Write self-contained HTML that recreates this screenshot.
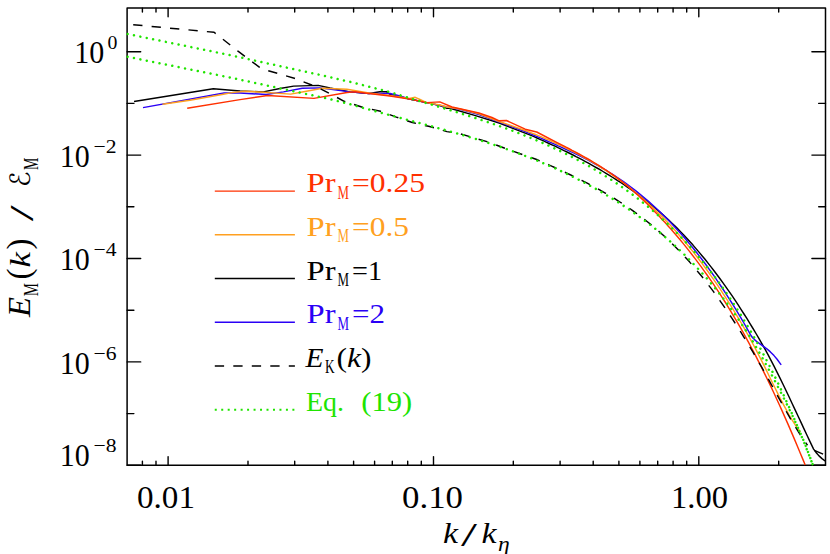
<!DOCTYPE html>
<html><head><meta charset="utf-8"><title>plot</title>
<style>html,body{margin:0;padding:0;background:#fff}svg{position:absolute;left:0;top:0}body{width:830px;height:554px;overflow:hidden;font-family:"Liberation Serif",serif}</style>
</head><body>
<svg width="830" height="554" viewBox="0 0 830 554" style="display:block">
<rect width="830" height="554" fill="#fff"/>
<defs><clipPath id="c"><rect x="126.25" y="7.25" width="700.10" height="458.90"/></clipPath></defs>
<rect x="127.1" y="8.1" width="698.4" height="457.2" fill="none" stroke="#000" stroke-width="1.5" stroke-linejoin="round"/>
<path d="M142.4,465.3v-4.0M142.4,8.1v4.0 M156.0,465.3v-4.0M156.0,8.1v4.0 M168.1,465.3v-8.7M168.1,8.1v8.7 M248.0,465.3v-4.0M248.0,8.1v4.0 M294.7,465.3v-4.0M294.7,8.1v4.0 M327.9,465.3v-4.0M327.9,8.1v4.0 M353.6,465.3v-4.0M353.6,8.1v4.0 M374.6,465.3v-4.0M374.6,8.1v4.0 M392.3,465.3v-4.0M392.3,8.1v4.0 M407.7,465.3v-4.0M407.7,8.1v4.0 M421.3,465.3v-4.0M421.3,8.1v4.0 M433.5,465.3v-8.7M433.5,8.1v8.7 M513.3,465.3v-4.0M513.3,8.1v4.0 M560.1,465.3v-4.0M560.1,8.1v4.0 M593.2,465.3v-4.0M593.2,8.1v4.0 M618.9,465.3v-4.0M618.9,8.1v4.0 M639.9,465.3v-4.0M639.9,8.1v4.0 M657.7,465.3v-4.0M657.7,8.1v4.0 M673.1,465.3v-4.0M673.1,8.1v4.0 M686.7,465.3v-4.0M686.7,8.1v4.0 M698.8,465.3v-8.7M698.8,8.1v8.7 M778.7,465.3v-4.0M778.7,8.1v4.0 M127.1,465.3h13.6M825.5,465.3h-13.6 M127.1,413.6h6.8M825.5,413.6h-6.8 M127.1,361.9h13.6M825.5,361.9h-13.6 M127.1,310.2h6.8M825.5,310.2h-6.8 M127.1,258.5h13.6M825.5,258.5h-13.6 M127.1,206.8h6.8M825.5,206.8h-6.8 M127.1,155.1h13.6M825.5,155.1h-13.6 M127.1,103.4h6.8M825.5,103.4h-6.8 M127.1,51.7h13.6M825.5,51.7h-13.6" stroke="#000" stroke-width="1.4" fill="none" stroke-linecap="round"/>
<g clip-path="url(#c)">
<polyline points="134.0,101.5 213.3,88.8 240.0,91.0 263.3,91.9 280.0,88.5 293.6,86.1 318.2,85.4 330.0,88.0 350.0,91.9 368.9,93.5 380.0,91.8 386.3,91.6 390.0,94.5 397.8,96.1 409.4,99.0 426.7,102.6 440.0,105.5 447.0,108.4 450.0,108.2 474.6,115.4 499.2,123.0 531.0,135.4 534.0,136.7 537.0,138.0 540.0,139.4 543.0,140.7 546.0,142.1 549.0,143.5 552.0,144.8 555.0,146.2 558.0,147.7 561.0,149.1 564.0,150.6 567.0,152.0 570.0,153.5 573.0,155.0 576.0,156.6 579.0,158.1 582.0,159.7 585.0,161.3 588.0,162.9 591.0,164.6 594.0,166.3 597.0,168.0 600.0,169.7 603.0,171.5 606.0,173.3 609.0,175.1 612.0,177.0 615.0,178.9 618.0,180.8 621.0,182.7 624.0,184.7 627.0,186.8 630.0,188.9 633.0,191.0 636.0,193.1 639.0,195.3 642.0,197.6 645.0,199.9 648.0,202.3 651.0,204.7 654.0,207.1 657.0,209.7 660.0,212.2 663.0,214.9 666.0,217.6 669.0,220.4 672.0,223.2 675.0,226.1 678.0,229.1 681.0,232.2 684.0,235.3 687.0,238.5 690.0,241.8 693.0,245.1 696.0,248.6 699.0,252.1 702.0,255.7 705.0,259.3 708.0,263.1 711.0,266.9 714.0,270.8 717.0,274.7 720.0,278.8 723.0,282.9 726.0,287.1 729.0,291.4 732.0,295.7 735.0,300.2 738.0,304.7 741.0,309.3 744.0,314.0 747.0,318.7 750.0,323.6 753.0,328.5 756.0,333.5 759.0,338.6 762.0,343.8 765.0,349.1 768.0,354.6 771.0,360.3 774.0,366.1 777.0,372.1 780.0,378.1 783.0,384.3 786.0,390.5 789.0,396.8 792.0,403.2 795.0,409.6 798.0,416.0 801.0,422.4 804.0,428.9 807.0,435.2 810.0,441.6 813.0,447.9 813.6,449.1 816.5,453.0 819.0,455.9 822.0,458.6 825.5,461.3" fill="none" stroke="#000" stroke-width="1.45" stroke-linejoin="round" />
<polyline points="814.3,450.3 823.1,454.2" fill="none" stroke="#000" stroke-width="1.45" stroke-linejoin="round" />
<polyline points="143.0,107.6 224.1,93.0 232.0,93.0 240.0,93.0 266.1,94.5 283.5,91.9 302.3,88.3 319.6,87.9 350.0,91.9 368.9,93.5 390.0,93.5 400.0,96.0 409.4,99.0 426.7,102.6 447.0,107.0 460.0,109.2 478.9,114.5 499.2,122.0 525.2,131.5 528.2,132.8 531.2,134.1 534.2,135.4 537.2,136.6 540.2,137.9 543.2,139.2 546.2,140.5 549.2,141.8 552.2,143.1 555.2,144.4 558.2,145.8 561.2,147.1 564.2,148.5 567.2,149.9 570.2,151.3 573.2,152.7 576.2,154.2 579.2,155.6 582.2,157.1 585.2,158.7 588.2,160.2 591.2,161.8 594.2,163.5 597.2,165.2 600.2,166.9 603.2,168.6 606.2,170.4 609.2,172.3 612.2,174.2 615.2,176.1 618.2,178.1 621.2,180.1 624.2,182.2 627.2,184.4 630.2,186.6 633.2,188.9 636.2,191.2 639.2,193.6 642.2,196.0 645.2,198.6 648.2,201.1 651.2,203.8 654.2,206.5 657.2,209.3 660.2,212.1 663.2,215.0 666.2,218.0 669.2,221.1 672.2,224.2 675.2,227.4 678.2,230.7 681.2,234.1 684.2,237.5 687.2,241.0 690.2,244.6 693.2,248.3 696.2,252.0 699.2,255.9 702.2,259.8 705.2,263.8 708.2,267.8 711.2,272.0 714.2,276.2 717.2,280.6 720.2,285.0 723.2,289.5 726.2,294.1 729.2,298.8 732.2,303.5 735.2,308.4 738.2,313.4 741.2,318.4 744.2,323.5 747.2,328.8 750.2,334.1 751.0,335.5 752.6,337.7 754.5,339.6 757.5,342.2 761.7,345.2 767.2,349.1 770.4,351.9 774.0,355.6 776.9,359.0 781.2,364.9" fill="none" stroke="#2a00f5" stroke-width="1.45" stroke-linejoin="round" />
<polyline points="162.5,104.3 190.0,100.2 223.4,94.3 232.0,92.6 244.5,91.3 263.3,92.2 290.7,94.1 305.0,91.5 322.5,88.3 347.0,89.3 368.9,93.0 386.0,95.0 400.0,97.0 409.4,98.5 415.2,97.3 420.0,99.5 426.7,102.6 440.0,105.0 447.0,107.0 460.0,109.0 478.9,113.8 499.2,121.5 525.2,130.5 528.2,131.7 531.2,132.8 534.2,134.0 537.2,135.2 540.2,136.4 543.2,137.7 546.2,139.0 549.2,140.2 552.2,141.6 555.2,142.9 558.2,144.3 561.2,145.7 564.2,147.1 567.2,148.5 570.2,150.0 573.2,151.6 576.2,153.1 579.2,154.7 582.2,156.3 585.2,158.0 588.2,159.7 591.2,161.4 594.2,163.2 597.2,165.0 600.2,166.9 603.2,168.8 606.2,170.7 609.2,172.7 612.2,174.8 615.2,176.9 618.2,179.0 621.2,181.2 624.2,183.4 627.2,185.7 630.2,188.1 633.2,190.5 636.2,193.0 639.2,195.5 642.2,198.1 645.2,200.7 648.2,203.4 651.2,206.2 654.2,209.0 657.2,211.9 660.2,214.8 663.2,217.8 666.2,220.9 669.2,224.1 672.2,227.3 675.2,230.6 678.2,234.0 681.2,237.4 684.2,240.9 687.2,244.5 690.2,248.2 693.2,251.9 696.2,255.8 699.2,259.7 702.2,263.6 705.2,267.7 708.2,271.8 711.2,276.1 714.2,280.4 717.2,284.7 720.2,289.2 723.2,293.8 726.2,298.4 729.2,303.1 732.2,307.9 735.2,312.8 738.2,317.9 741.2,323.0 744.2,328.2 747.2,333.5 750.2,338.9 753.2,344.5 756.2,350.2 759.2,356.0 762.2,361.9 765.2,367.9 768.2,374.0 771.2,380.2 774.2,386.3 777.2,392.4 780.2,398.3 783.2,404.1 786.2,409.7 789.2,415.1 792.2,420.2 795.2,424.9 798.2,429.3 800.4,432.2" fill="none" stroke="#ffa020" stroke-width="1.45" stroke-linejoin="round" />
<polyline points="187.2,108.3 240.0,99.6 267.6,95.5 313.9,98.4 347.0,92.5 355.0,91.8 368.9,93.5 390.0,96.0 409.4,99.0 426.7,102.6 439.8,101.9 452.0,107.0 478.9,113.0 492.0,117.5 499.2,120.8 506.4,120.5 525.2,129.2 536.7,132.0 557.1,142.6 560.1,144.1 563.1,145.6 566.1,147.2 569.1,148.7 572.1,150.3 575.1,151.8 578.1,153.5 581.1,155.1 584.1,156.8 587.1,158.5 590.1,160.2 593.1,162.0 596.1,163.8 599.1,165.6 602.1,167.6 605.1,169.5 608.1,171.5 611.1,173.6 614.1,175.7 617.1,177.9 620.1,180.2 623.1,182.5 626.1,184.9 629.1,187.4 632.1,190.0 635.1,192.6 638.1,195.3 641.1,198.1 644.1,200.9 647.1,203.8 650.1,206.8 653.1,209.9 656.1,213.0 659.1,216.1 662.1,219.4 665.1,222.6 668.1,226.0 671.1,229.3 674.1,232.8 677.1,236.3 680.1,239.8 683.1,243.4 686.1,247.1 689.1,250.9 692.1,254.7 695.1,258.6 698.1,262.6 701.1,266.6 704.1,270.8 707.1,275.0 710.1,279.3 713.1,283.7 716.1,288.1 719.1,292.7 722.1,297.3 725.1,302.0 728.1,306.9 731.1,311.8 734.1,316.8 737.1,321.9 740.1,327.1 743.1,332.4 746.1,337.9 749.1,343.4 752.1,349.0 755.1,354.7 758.1,360.6 761.1,366.5 764.1,372.6 767.1,378.7 770.1,384.9 773.1,391.3 776.1,397.7 779.1,404.3 782.1,410.9 785.1,417.6 788.1,424.4 791.1,431.4 794.1,438.4 797.1,445.5 800.1,452.7 803.1,459.9 805.2,465.1" fill="none" stroke="#ff3000" stroke-width="1.45" stroke-linejoin="round" />
<polyline points="133.2,24.7 214.1,32.3 238.0,51.2 259.6,67.3 268.3,70.7 294.3,78.2 311.0,84.7 322.5,89.8 344.2,101.3 361.7,107.0 380.5,111.3 396.4,117.1 412.3,122.5 429.6,126.5 447.0,131.6 460.0,133.7 486.1,141.4 522.3,154.5 536.7,159.5 539.7,160.8 542.7,162.1 545.7,163.5 548.7,164.8 551.7,166.2 554.7,167.5 557.7,168.9 560.7,170.3 563.7,171.7 566.7,173.1 569.7,174.5 572.7,175.9 575.7,177.4 578.7,178.9 581.7,180.4 584.7,181.9 587.7,183.4 590.7,185.0 593.7,186.6 596.7,188.2 599.7,189.9 602.7,191.6 605.7,193.3 608.7,195.1 611.7,196.9 614.7,198.7 617.7,200.6 620.7,202.5 623.7,204.5 626.7,206.5 629.7,208.5 632.7,210.7 635.7,212.8 638.7,215.0 641.7,217.3 644.7,219.6 647.7,222.0 650.7,224.4 653.7,226.9 656.7,229.5 659.7,232.1 662.7,234.8 665.7,237.5 668.7,240.3 671.7,243.2 674.7,246.2 677.7,249.2 680.7,252.3 683.7,255.5 686.7,258.8 689.7,262.1 692.7,265.6 695.7,269.1 698.7,272.7 701.7,276.3 704.7,280.1 707.7,284.0 710.7,287.9 713.7,291.9 716.7,296.1 719.7,300.3 722.7,304.6 725.7,308.9 728.7,313.4 731.7,317.9 734.7,322.5 737.7,327.2 740.7,331.9 743.7,336.8 746.7,341.7 749.7,346.7 752.7,351.7 755.7,356.8 758.7,362.0 761.7,367.2 764.7,372.5 767.7,377.9 770.7,383.3 773.7,388.7 776.7,394.2 779.7,399.6 782.7,405.0 785.7,410.4 788.7,415.7 791.7,420.8 794.7,425.8 797.7,430.7 800.7,435.4 803.7,439.9 806.7,444.2 807.5,445.3" fill="none" stroke="#000" stroke-width="1.45" stroke-linejoin="round" stroke-dasharray="9.3 9.2" stroke-linecap="butt"/>
<polyline points="127.6,34.0 230.0,55.1 330.0,77.1 342.2,80.2 350.0,81.8 386.3,91.1 389.3,91.9 392.3,92.8 395.3,93.8 398.3,94.7 401.3,95.6 404.3,96.5 407.3,97.4 410.3,98.3 413.3,99.2 416.3,100.1 419.3,101.0 422.3,101.9 425.3,102.8 428.3,103.6 431.3,104.5 434.3,105.4 437.3,106.3 440.3,107.2 443.3,108.1 446.3,109.0 449.3,109.9 452.3,110.8 455.3,111.7 458.3,112.6 461.3,113.6 464.3,114.5 467.3,115.4 470.3,116.4 473.3,117.3 476.3,118.3 479.3,119.3 482.3,120.3 485.3,121.2 488.3,122.3 491.3,123.3 494.3,124.3 497.3,125.3 500.3,126.4 503.3,127.5 506.3,128.5 509.3,129.6 512.3,130.7 515.3,131.9 518.3,133.0 521.3,134.2 524.3,135.4 527.3,136.6 530.3,137.8 533.3,139.0 536.3,140.3 539.3,141.5 542.3,142.8 545.3,144.2 548.3,145.5 551.3,146.9 554.3,148.3 557.3,149.7 560.3,151.1 563.3,152.6 566.3,154.1 569.3,155.6 572.3,157.1 575.3,158.7 578.3,160.3 581.3,161.9 584.3,163.5 587.3,165.2 590.3,166.9 593.3,168.7 596.3,170.5 599.3,172.3 602.3,174.1 605.3,176.0 608.3,177.9 611.3,179.8 614.3,181.8 617.3,183.8 620.3,185.9 623.3,187.9 626.3,190.1 629.3,192.2 632.3,194.4 635.3,196.7 638.3,198.9 641.3,201.3 644.3,203.7 647.3,206.1 650.3,208.6 653.3,211.1 656.3,213.7 659.3,216.3 662.3,219.0 665.3,221.8 668.3,224.6 671.3,227.5 674.3,230.4 677.3,233.4 680.3,236.5 683.3,239.6 686.3,242.8 689.3,246.1 692.3,249.4 695.3,252.8 698.3,256.3 701.3,259.9 704.3,263.5 707.3,267.3 710.3,271.1 713.3,275.0 716.3,279.0 719.3,283.0 722.3,287.2 725.3,291.4 728.3,295.8 731.3,300.2 734.3,304.7 737.3,309.4 740.3,314.1 743.3,319.0 746.3,323.9 749.3,329.0 752.3,334.1 755.3,339.4 758.3,344.8 761.3,350.3 764.3,355.9 767.3,361.7 770.3,367.5 773.3,373.5 776.3,379.6 779.3,385.9 782.3,392.3 785.3,398.8 788.3,405.4 791.3,412.2 794.3,419.1 797.3,426.1 800.3,433.3 803.3,440.6 806.3,448.1 809.3,455.7 812.3,463.5 812.9,465.1" fill="none" stroke="#20e400" stroke-width="2.5" stroke-linejoin="round" stroke-dasharray="0.01 6.5" stroke-linecap="round"/>
<polyline points="127.6,56.8 230.0,77.5 330.0,99.1 350.0,104.2 353.0,105.0 356.0,105.9 359.0,106.7 362.0,107.6 365.0,108.4 368.0,109.2 371.0,110.0 374.0,110.9 377.0,111.7 380.0,112.5 383.0,113.3 386.0,114.1 389.0,114.9 392.0,115.7 395.0,116.5 398.0,117.3 401.0,118.1 404.0,118.9 407.0,119.7 410.0,120.5 413.0,121.3 416.0,122.1 419.0,122.9 422.0,123.7 425.0,124.5 428.0,125.3 431.0,126.1 434.0,126.9 437.0,127.8 440.0,128.6 443.0,129.4 446.0,130.3 449.0,131.1 452.0,132.0 455.0,132.8 458.0,133.7 461.0,134.5 464.0,135.4 467.0,136.3 470.0,137.2 473.0,138.1 476.0,139.0 479.0,140.0 482.0,140.9 485.0,141.9 488.0,142.8 491.0,143.8 494.0,144.8 497.0,145.8 500.0,146.8 503.0,147.8 506.0,148.9 509.0,149.9 512.0,151.0 515.0,152.1 518.0,153.2 521.0,154.3 524.0,155.5 527.0,156.6 530.0,157.8 533.0,159.0 536.0,160.2 539.0,161.4 542.0,162.7 545.0,164.0 548.0,165.2 551.0,166.6 554.0,167.9 557.0,169.2 560.0,170.6 563.0,172.0 566.0,173.4 569.0,174.9 572.0,176.4 575.0,177.8 578.0,179.4 581.0,180.9 584.0,182.5 587.0,184.1 590.0,185.7 593.0,187.3 596.0,189.0 599.0,190.7 602.0,192.4 605.0,194.2 608.0,196.0 611.0,197.8 614.0,199.7 617.0,201.5 620.0,203.5 623.0,205.4 626.0,207.4 629.0,209.4 632.0,211.5 635.0,213.6 638.0,215.7 641.0,217.9 644.0,220.1 647.0,222.4 650.0,224.7 653.0,227.0 656.0,229.4 659.0,231.9 662.0,234.4 665.0,236.9 668.0,239.5 671.0,242.2 674.0,244.9 677.0,247.6 680.0,250.5 683.0,253.3 686.0,256.3 689.0,259.3 692.0,262.4 695.0,265.5 698.0,268.7 701.0,271.9 704.0,275.2 707.0,278.6 710.0,282.1 713.0,285.6 716.0,289.3 719.0,293.0 722.0,296.8 725.0,300.7 728.0,304.6 731.0,308.7 734.0,312.9 737.0,317.2 740.0,321.6 743.0,326.1 746.0,330.7 749.0,335.4 752.0,340.2 755.0,345.2 758.0,350.3 761.0,355.5 764.0,360.8 767.0,366.3 770.0,371.8 773.0,377.4 776.0,383.1 779.0,388.9 782.0,394.7 785.0,400.6 788.0,406.6 791.0,412.7 794.0,419.0 797.0,425.5 800.0,432.3 803.0,439.3 806.0,446.7 809.0,454.5 812.0,462.6 812.9,465.1" fill="none" stroke="#20e400" stroke-width="2.5" stroke-linejoin="round" stroke-dasharray="0.01 6.5" stroke-linecap="round"/>
</g>
<g font-family="'Liberation Serif', serif" fill="#000">
<text x="137" y="507.7" font-size="30.6" textLength="58" lengthAdjust="spacingAndGlyphs">0.01</text>
<text x="402" y="507.7" font-size="30.6" textLength="61" lengthAdjust="spacingAndGlyphs">0.10</text>
<text x="671" y="507.7" font-size="30.6" textLength="57" lengthAdjust="spacingAndGlyphs">1.00</text>
<text x="74.3" y="63.4" font-size="30.6" textLength="30" lengthAdjust="spacingAndGlyphs">10</text>
<text x="107.5" y="49.3" font-size="19.8">0</text>
<text x="59.8" y="166.8" font-size="30.6" textLength="30" lengthAdjust="spacingAndGlyphs">10</text>
<text x="93.5" y="152.7" font-size="19.8" textLength="23" lengthAdjust="spacingAndGlyphs">−2</text>
<text x="59.8" y="270.2" font-size="30.6" textLength="30" lengthAdjust="spacingAndGlyphs">10</text>
<text x="93.5" y="256.1" font-size="19.8" textLength="23" lengthAdjust="spacingAndGlyphs">−4</text>
<text x="59.8" y="373.6" font-size="30.6" textLength="30" lengthAdjust="spacingAndGlyphs">10</text>
<text x="93.5" y="359.5" font-size="19.8" textLength="23" lengthAdjust="spacingAndGlyphs">−6</text>
<text x="59.8" y="466.1" font-size="30.6" textLength="30" lengthAdjust="spacingAndGlyphs">10</text>
<text x="93.5" y="452" font-size="19.8" textLength="23" lengthAdjust="spacingAndGlyphs">−8</text>
</g>
<line x1="214.8" y1="191.1" x2="294.9" y2="191.1" stroke="#ff3000" stroke-width="1.45" />
<line x1="214.8" y1="234.8" x2="294.9" y2="234.8" stroke="#ffa020" stroke-width="1.45" />
<line x1="214.8" y1="278.5" x2="294.9" y2="278.5" stroke="#000" stroke-width="1.45" />
<line x1="214.8" y1="322.3" x2="294.9" y2="322.3" stroke="#2a00f5" stroke-width="1.45" />
<line x1="214.8" y1="366.0" x2="294.9" y2="366.0" stroke="#000" stroke-width="1.45" stroke-dasharray="9.3 9.2"/>
<line x1="214.75" y1="409.7" x2="294.4" y2="409.7" stroke="#20e400" stroke-width="2.0" stroke-dasharray="2.0 4.47"/>
<g font-family="'Liberation Serif', serif" font-size="28">
<g fill="#ff3000">
<text x="306.5" y="192.1" textLength="29" lengthAdjust="spacingAndGlyphs">Pr</text>
<text x="337.5" y="198.6" font-size="18.2" textLength="11.5" lengthAdjust="spacingAndGlyphs">M</text>
<text x="352" y="192.1" textLength="73" lengthAdjust="spacingAndGlyphs">=0.25</text>
</g>
<g fill="#ffa020">
<text x="306.5" y="235.82" textLength="29" lengthAdjust="spacingAndGlyphs">Pr</text>
<text x="337.5" y="242.32" font-size="18.2" textLength="11.5" lengthAdjust="spacingAndGlyphs">M</text>
<text x="352" y="235.82" textLength="57" lengthAdjust="spacingAndGlyphs">=0.5</text>
</g>
<g fill="#000">
<text x="306.5" y="279.54" textLength="29" lengthAdjust="spacingAndGlyphs">Pr</text>
<text x="337.5" y="286.04" font-size="18.2" textLength="11.5" lengthAdjust="spacingAndGlyphs">M</text>
<text x="352" y="279.54" textLength="30" lengthAdjust="spacingAndGlyphs">=1</text>
</g>
<g fill="#2a00f5">
<text x="306.5" y="323.26" textLength="29" lengthAdjust="spacingAndGlyphs">Pr</text>
<text x="337.5" y="329.76" font-size="18.2" textLength="11.5" lengthAdjust="spacingAndGlyphs">M</text>
<text x="352" y="323.26" textLength="33" lengthAdjust="spacingAndGlyphs">=2</text>
</g>
<g fill="#000">
<text x="305.5" y="366.98" font-style="italic" textLength="18" lengthAdjust="spacingAndGlyphs">E</text>
<text x="325" y="373.48" font-size="18.2" textLength="9.6" lengthAdjust="spacingAndGlyphs">K</text>
<text x="336.5" y="366.98" textLength="35" lengthAdjust="spacingAndGlyphs">(<tspan font-style="italic">k</tspan>)</text>
</g>
<g fill="#20e400">
<text x="306" y="410.7" textLength="38" lengthAdjust="spacingAndGlyphs">Eq.</text>
<text x="361.3" y="410.7" textLength="51" lengthAdjust="spacingAndGlyphs">(19)</text>
</g>
</g>
<g font-family="'Liberation Serif', serif" fill="#000">
<text x="443" y="543.3" font-size="29.7" font-style="italic" textLength="15" lengthAdjust="spacingAndGlyphs">k</text>
<text x="461" y="546" font-size="34" textLength="16" lengthAdjust="spacingAndGlyphs">/</text>
<text x="481.5" y="543.3" font-size="29.7" font-style="italic" textLength="15" lengthAdjust="spacingAndGlyphs">k</text>
<text x="498" y="551.2" font-size="21.4" font-style="italic" textLength="11.7" lengthAdjust="spacingAndGlyphs">η</text>
</g>
<g transform="translate(30.1,316.9) rotate(-90)" font-family="'Liberation Serif', serif" fill="#000">
<text x="0" y="0" font-size="32.4" font-style="italic" textLength="20" lengthAdjust="spacingAndGlyphs">E</text>
<text x="20.7" y="7.8" font-size="21.4" textLength="13.3" lengthAdjust="spacingAndGlyphs">M</text>
<text x="37.4" y="0" font-size="33">(</text>
<text x="49.4" y="0" font-size="29.7" font-style="italic" textLength="15.5" lengthAdjust="spacingAndGlyphs">k</text>
<text x="67.3" y="0" font-size="33">)</text>
<text x="95.6" y="3" font-size="34" textLength="16" lengthAdjust="spacingAndGlyphs">/</text>
<text x="130" y="0" font-size="28" font-family="'DejaVu Serif', 'DejaVu Sans', serif" textLength="15.5" lengthAdjust="spacingAndGlyphs">ℰ</text>
<text x="146.8" y="8.1" font-size="21.4" textLength="12.3" lengthAdjust="spacingAndGlyphs">M</text>
</g>
</svg>
</body></html>
